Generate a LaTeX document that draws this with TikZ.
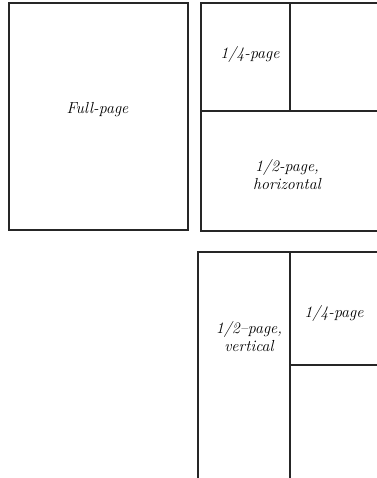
\documentclass[tikz,border=0pt]{standalone}
\usepackage{tikz}

\begin{document}
\begin{tikzpicture}[
    x=0.75pt, y=-0.75pt,
    frame/.style={draw=black!85, line width=0.85pt},
    adtext/.style={font=\itshape\fontsize{12}{13.5}\selectfont, align=center}
]
\useasboundingbox (0,0) rectangle (377,478);

% full page
\draw[frame] (9,3) rectangle (188,230);
\node[adtext] (full) at (97.5,110) {Full-page};

% quarter + half horizontal
\draw[frame] (378,3) -- (201,3) -- (201,231) -- (378,231);
\draw[frame] (201,111) -- (378,111);
\draw[frame] (290,3) -- (290,111);
\node[adtext] (quarterA) at (250,55) {1/4-page};
\node[adtext] (halfH) at (287,175) {1/2-page,\\horizontal};

% half vertical + quarter
\draw[frame] (198,479) -- (198,252) -- (378,252);
\draw[frame] (290,252) -- (290,479);
\draw[frame] (290,365) -- (378,365);
\node[adtext] (halfV) at (249,337) {1/2--page,\\vertical};
\node[adtext] (quarterB) at (334,313) {1/4-page};
\end{tikzpicture}
\end{document}
